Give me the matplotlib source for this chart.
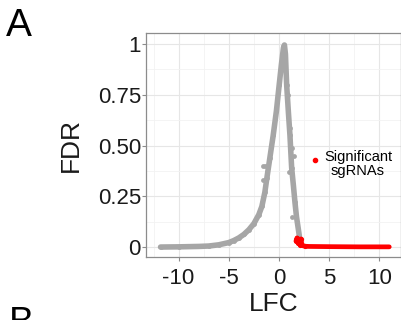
import matplotlib
matplotlib.use("Agg")
import matplotlib.pyplot as plt
from matplotlib.lines import Line2D
from matplotlib.ticker import MultipleLocator

plt.rcParams['font.family'] = ['Liberation Sans', 'DejaVu Sans']

# Non-significant sgRNAs (grey band)
grey_lfc = [-11.8, -10.0, -8.0, -7.0, -6.0, -5.0, -4.5, -4.0, -3.5, -3.0, -2.5,
            -2.0, -1.7, -1.4, -1.2, -0.9, -0.57, -0.25, 0.03, 0.25, 0.45, 0.55,
            0.65, 0.77, 0.95, 1.1, 1.27, 1.45, 1.6, 1.75, 1.93, 2.05]
grey_fdr = [0.0, 0.001, 0.003, 0.005, 0.011, 0.022, 0.032, 0.045, 0.062, 0.085, 0.115,
            0.16, 0.20, 0.27, 0.34, 0.44, 0.55, 0.67, 0.80, 0.90, 0.98, 0.995,
            0.95, 0.80, 0.66, 0.55, 0.39, 0.30, 0.22, 0.15, 0.09, 0.05]
# scattered grey sgRNAs off the main band
stray_lfc = [-1.55, -1.35, -1.57, -1.2, 1.1, 1.27, 1.03, 1.27, 0.9, 1.5]
stray_fdr = [0.40, 0.40, 0.33, 0.37, 0.586, 0.49, 0.37, 0.15, 0.75, 0.45]

# Significant sgRNAs (red)
sig_lfc = [1.7, 1.8, 1.9, 2.0, 2.1, 2.2, 2.3, 2.6, 3.0, 5.0, 8.0, 11.0]
sig_fdr = [0.03, 0.045, 0.02, 0.035, 0.01, 0.04, 0.008, 0.004, 0.003, 0.002, 0.001, 0.001]

xticks = [-10, -5, 0, 5, 10]
yticks = [0, 0.25, 0.5, 0.75, 1]
yticklabels = ['0', '0.25', '0.50', '0.75', '1']

grey = '#a6a6a6'
red = '#ff0000'

fig = plt.figure(figsize=(4.02, 3.20), dpi=100)
ax = fig.add_axes([146.5/402, 1-257/320, 254.5/402, 224/320])

ax.plot(grey_lfc, grey_fdr, color=grey, lw=4.0, solid_capstyle='round',
        solid_joinstyle='round', zorder=3)
ax.scatter(grey_lfc, grey_fdr, s=12, color=grey, lw=0, zorder=3)
ax.scatter(stray_lfc, stray_fdr, s=12, color=grey, lw=0, zorder=3)
ax.plot(sig_lfc, sig_fdr, color=red, lw=3.4, solid_capstyle='round', zorder=4)
ax.scatter(sig_lfc[:8], sig_fdr[:8], s=14, color=red, lw=0, zorder=4)

ax.set_xlim(-13.2, 12.17)
ax.set_ylim(-0.049, 1.054)
ax.set_xticks(xticks)
ax.set_xticklabels([str(t) for t in xticks])
ax.set_yticks(yticks)
ax.set_yticklabels(yticklabels)
ax.xaxis.set_minor_locator(MultipleLocator(2.5))
ax.yaxis.set_minor_locator(MultipleLocator(0.125))
ax.grid(which='major', color='#e6e6e6', lw=0.8)
ax.grid(which='minor', color='#f2f2f2', lw=0.6)
ax.set_axisbelow(True)
for s in ax.spines.values():
    s.set_color('#8c8c8c')
    s.set_linewidth(0.9)
ax.tick_params(which='major', length=3, width=0.8, color='#8c8c8c',
               labelsize=16, labelcolor='#1a1a1a', pad=1)
ax.tick_params(axis='x', which='major', pad=5)
ax.tick_params(which='minor', length=0)

ax.set_xlabel('LFC', fontsize=19, color='#1a1a1a', labelpad=2)
ax.set_ylabel('FDR', fontsize=19, color='#1a1a1a', labelpad=11)

handle = Line2D([], [], marker='o', color=red, lw=0, markersize=3)
leg = ax.legend([handle], ['Significant\nsgRNAs'], loc='center left',
                bbox_to_anchor=(0.617, 0.41), frameon=False, fontsize=10.5,
                handlelength=0.6, handletextpad=0.3, borderpad=0, labelspacing=0,
                handleheight=2.7)
for t in leg.get_texts():
    t.set_multialignment('center')
    t.set_linespacing(1.0)

fig.text(6/402, 1-8/320, 'A', fontsize=28, va='top', ha='left', color='black')
fig.text(9/402, 1-306/320, 'B', fontsize=27, va='top', ha='left', color='black')

fig.savefig('out.png', dpi=100)
